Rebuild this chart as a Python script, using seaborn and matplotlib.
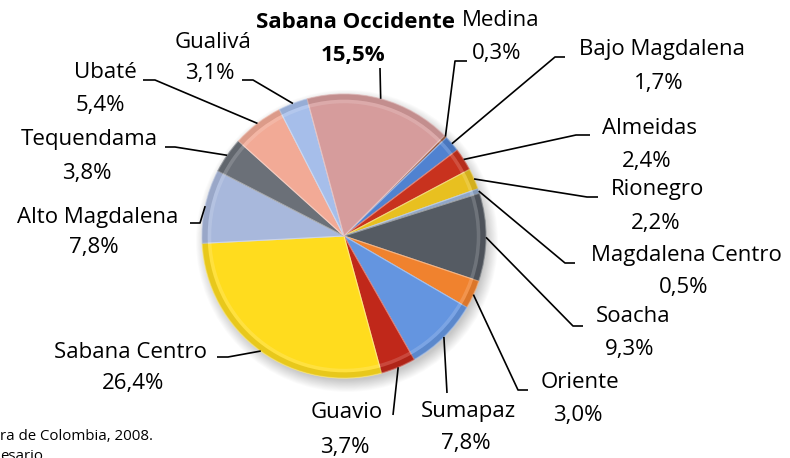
import numpy as np
import matplotlib.pyplot as plt
import seaborn as sns
from matplotlib.patches import Wedge, Circle
from matplotlib.colors import to_rgb

# data (clockwise from Medina)
regions = ["Medina", "Bajo Magdalena", "Almeidas", "Rionegro", "Magdalena Centro",
           "Soacha", "Oriente", "Sumapaz", "Guavio", "Sabana Centro",
           "Alto Magdalena", "Tequendama", "Ubaté", "Gualivá", "Sabana Occidente"]
shares = [0.3, 1.7, 2.4, 2.2, 0.5, 9.3, 3.0, 7.8, 3.7, 26.4, 7.8, 3.8, 5.4, 3.1, 15.5]
pct_labels = ["0,3%", "1,7%", "2,4%", "2,2%", "0,5%", "9,3%", "3,0%", "7,8%", "3,7%",
              "26,4%", "7,8%", "3,8%", "5,4%", "3,1%", "15,5%"]
colors = ["#9C5A3C", "#5082D0", "#C8321E", "#E8C020", "#8FA6C8",
          "#555B63", "#F0822E", "#6495E0", "#C0281A", "#FFDC1E",
          "#A8B8DC", "#6B7078", "#F2AA96", "#A6BEEA", "#D69C9C"]

# label layout in pixel coords: name centre, pct centre, elbow, end of leader
layout = {
    "Medina": ((501, 20), (497, 53), (455, 61), (467, 61)),
    "Bajo Magdalena": ((662, 49), (659, 83), (555, 57), (565, 57)),
    "Almeidas": ((650, 128), (647, 162), (576, 135), (590, 135)),
    "Rionegro": ((658, 189), (656, 223), (587, 197), (598, 197)),
    "Magdalena Centro": ((686, 256), (684, 288), (565, 263), (575, 263)),
    "Soacha": ((633, 317), (630, 350), (573, 326), (583, 326)),
    "Oriente": ((580, 382), (578, 415), (518, 390), (528, 390)),
    "Sumapaz": ((468, 412), (466, 443), (447, 393), (447, 393)),
    "Guavio": ((347, 413), (345, 447), (393, 415), (393, 415)),
    "Sabana Centro": ((131, 352), (133, 384), (228, 357), (217, 357)),
    "Alto Magdalena": ((98, 217), (94, 248), (200, 223), (190, 223)),
    "Tequendama": ((89, 140), (87, 173), (175, 147), (165, 147)),
    "Ubaté": ((105, 72), (100, 106), (155, 80), (143, 80)),
    "Gualivá": ((213, 42), (210, 74), (253, 80), (242, 80)),
    "Sabana Occidente": ((355, 22), (353, 55), (380, 68), (380, 68)),
}

sns.set_theme(style="white")
plt.rcParams['font.family'] = ['Open Sans', 'DejaVu Sans']
plt.rcParams['text.color'] = 'black'

W, H = 790, 458
fig = plt.figure(figsize=(7.9, 4.58), dpi=100)
ax = fig.add_axes([0, 0, 1, 1])

def px(x, y):
    return x, H - y

cx, cy = px(344, 236)
R = 142

# soft drop shadow
for i in range(14):
    ax.add_patch(Circle((cx + 3, cy - 5), R + 9 - i * 0.9, color="black", alpha=0.016, lw=0))

wedges, _ = ax.pie(shares, colors=colors, startangle=45, counterclock=False,
                   center=(cx, cy), radius=R,
                   wedgeprops=dict(linewidth=0.8))

for w, c in zip(wedges, colors):
    rgb = np.array(to_rgb(c))
    w.set_edgecolor(tuple(rgb + (1 - rgb) * 0.4))
    t1, t2 = w.theta1, w.theta2
    # bevel: slightly darker outer rim with a light line just inside
    ax.add_patch(Wedge((cx, cy), R, t1, t2, width=R * 0.04,
                       facecolor=tuple(rgb * 0.75), alpha=0.35, lw=0))
    ax.add_patch(Wedge((cx, cy), R * 0.96, t1, t2, width=R * 0.025,
                       facecolor="white", alpha=0.15, lw=0))

# labels and leader lines
for w, name, pct in zip(wedges, regions, pct_labels):
    (nx, ny), (qx, qy), elbow, end = layout[name]
    ang = np.deg2rad((w.theta1 + w.theta2) / 2)
    sx, sy = cx + R * np.cos(ang), cy + R * np.sin(ang)
    ex, ey = px(*elbow)
    hx, hy = px(*end)
    ax.plot([sx, ex, hx], [sy, ey, hy], color="black", lw=1.2, solid_capstyle="butt")
    weight = "bold" if name == "Sabana Occidente" else "normal"
    ax.text(*px(nx, ny), name, ha="center", va="center", fontsize=16, fontweight=weight)
    ax.text(*px(qx, qy), pct, ha="center", va="center", fontsize=16, fontweight=weight)

# source note (clipped at the figure edge, as in the original)
ax.text(*px(0, 437), "ra de Colombia, 2008.", ha="left", va="center", fontsize=10.8)
ax.text(*px(0, 456), "esario", ha="left", va="center", fontsize=10.8)

ax.set_xlim(0, W)
ax.set_ylim(0, H)
ax.set_aspect("equal")
ax.axis("off")

fig.savefig("out.png", dpi=100)
